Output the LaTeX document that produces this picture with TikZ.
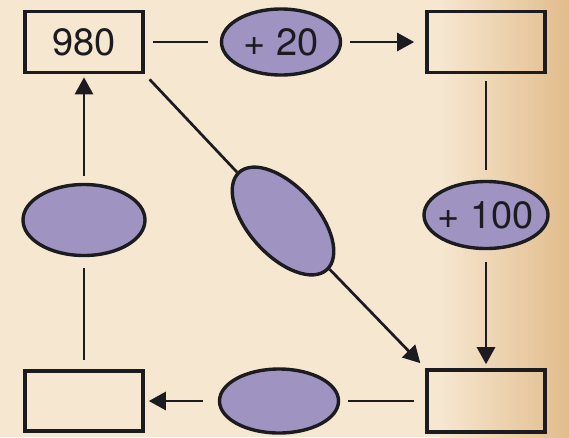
\documentclass[tikz,border=0pt]{standalone}
\usepackage{fontspec}
\setmainfont{TeX Gyre Heros}
\usetikzlibrary{shapes.geometric,arrows.meta}
\definecolor{paper}{RGB}{246,231,208}
\definecolor{stain}{RGB}{226,188,140}
\definecolor{lav}{RGB}{158,147,193}
\definecolor{ink}{RGB}{28,28,32}
\begin{document}
\begin{tikzpicture}[x=1pt,y=-1pt,
  box/.style={draw=ink,line width=3.6pt,minimum width=118pt,minimum height=61pt,inner sep=0pt},
  op/.style={ellipse,draw=ink,line width=3.4pt,fill=lav,inner sep=0pt,text=ink,
    font=\fontsize{38}{42}\selectfont},
  num/.style={font=\fontsize{38}{42}\selectfont,text=ink},
  link/.style={draw=ink,line width=2.7pt},
  flow/.style={link,-{Triangle[length=17pt,width=18pt]}}]
% paper background with a darker edge on the right
\fill[paper] (0,0) rectangle (569,437);
\shade[left color=paper,right color=stain] (440,0) rectangle (569,437);
\useasboundingbox (0,0) rectangle (569,437);

% boxes
\node[box,num] (a) at (84,42) {980};
\node[box] (c) at (486,42) {};
\node[box,minimum height=62pt] (e) at (486,401) {};
\node[box,minimum height=60pt] (g) at (84,401) {};

% operation ellipses
\node[op,minimum width=119pt,minimum height=66pt] (b) at (281,42) {\makebox[0pt]{+ 20}};
\node[op,minimum width=124pt,minimum height=67pt] (d) at (486,215) {\makebox[0pt]{+ 100}};
\node[op,minimum width=119pt,minimum height=64pt] (f) at (279,401) {};
\node[op,minimum width=122pt,minimum height=71pt] (h) at (84,220) {};
\node[op,minimum width=131pt,minimum height=69pt,rotate=-48] (i) at (283,221) {};

% connectors
\draw[link,shorten <=8pt,shorten >=12pt] (a) -- (b);
\draw[flow,shorten <=8pt,shorten >=11pt] (b) -- (c);
\draw[link,shorten <=7pt,shorten >=10pt] (c) -- (d);
\draw[flow,shorten <=12pt,shorten >=4pt] (d) -- (e);
\draw[link,shorten <=11pt,shorten >=8pt] (e) -- (f);
\draw[flow,shorten <=15pt,shorten >=4pt] (f) -- (g);
\draw[link,shorten <=9pt,shorten >=11pt] (g) -- (h);
\draw[flow,shorten <=7pt,shorten >=3pt] (h) -- (a);
\draw[link,shorten <=7pt] (a.south east) -- (i);
\draw[flow,shorten >=7pt] (i) -- (e.north west);
\end{tikzpicture}
\end{document}
